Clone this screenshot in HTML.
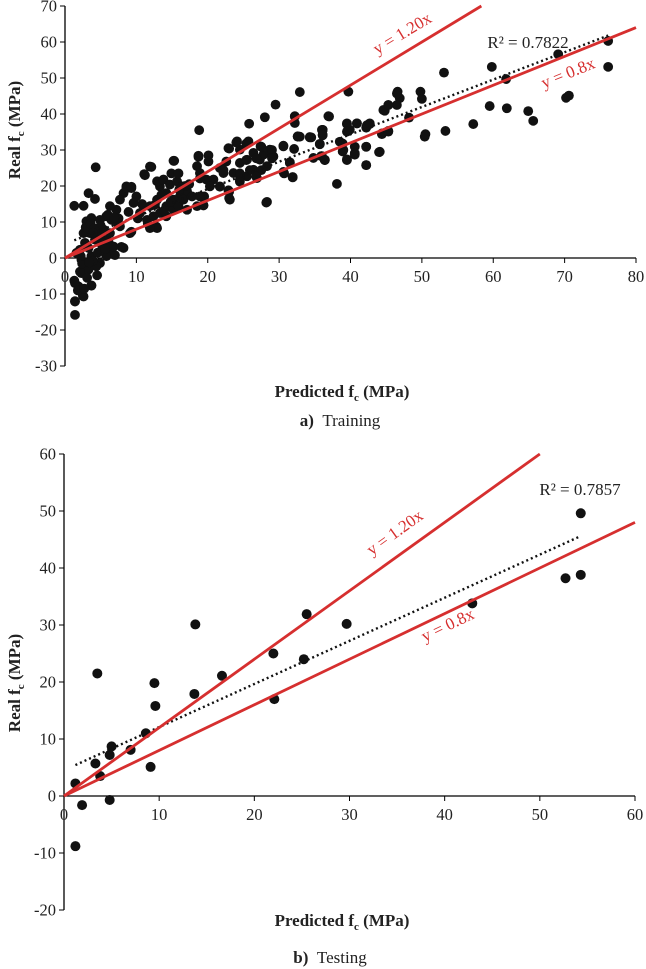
<!DOCTYPE html>
<html><head><meta charset="utf-8"><style>
html,body{margin:0;padding:0;background:#fff;}
svg{display:block;font-family:"Liberation Serif",serif;}
</style></head><body>
<svg id="s" width="646" height="969" viewBox="0 0 646 969" xmlns="http://www.w3.org/2000/svg"></svg>
<script>
const trainX=[1.3,2.6,4.3,3.3,4.2,18.8,32.9,29.5,25.8,28,32.2,32.6,34.3,36,36.9,28.3,15.3,12.1,11.1,24.1,23,18.7,20.1,18.5,18.9,19.5,19.4,22.9,23.1,25.5,26.9,30.6,31.9,30.6,31.5,34.8,36.4,29.2,27.4,28.7,26.4,25.5,24.5,22.2,21.7,20.8,17.1,16.1,15.2,14.2,13.3,12.9,13.8,14.7,15.7,16.4,17.8,12.9,11.9,11.5,12.9,11.9,13.3,14.2,15.2,10.5,9.6,10,8.6,9.3,8.2,7.7,7.2,6.3,5.8,6.5,7.7,9.1,8.2,6.5,5.8,4.9,4.4,3.7,1.9,1.3,1.4,2.5,3,3.7,4.9,4.7,3.5,2.6,2.8,2.1,1.6,3.3,3.7,2.3,2.8,2.3,3.3,4.2,5.4,5.4,6.3,17.1,18.5,15.9,16.6,14.2,12.4,11,18.9,19.8,20.3,21.7,23.6,24.5,26.4,27.3,28.3,24.5,25.7,27.8,29,1.4,1.4,2.6,3.7,1.4,2.1,39.7,53.1,59.8,69.1,76.1,76.1,61.8,59.5,61.9,64.9,65.6,70.2,70.6,57.2,53.3,50.4,50.5,49.8,50,46.6,46.9,46.5,45.3,44.8,48.2,42.7,42.2,40.9,39.5,39.9,45.3,44.4,37,36.1,36.1,34.3,32.9,35.7,36.4,36,38.1,38.9,38.9,39.5,40.6,40.6,42.2,42.2,44,32.2,32.2,32.6,34.5,36.1,36.1,35.7,35.9,36.4,28.2,30.6,32.1,31.5,31.9,30.7,29,29,27.5,27.5,26.8,26.8,25.4,25.4,25.9,24,22.9,22.6,22.2,21.7,23,23,24.5,24.5,39.5,39.5,40.9,42.3,42.7,38.5,39,39.5,40.6,42.2,42.2,44.1,44.6,45.3,46.5,44.4,45.3,11.9,11.2,15.2,14.9,15.9,18.7,20.1,18.9,19.4,12.8,11.9,7.9,7,9.3,8.6,9.3,10.8,13.5,16.8,5,6,7.5,2.4,3.1,3.9,4.6,5.2,6.1,6.8,7.4,2.9,3.6,4.1,5.6,6.9,8.9,10.2,11.6,12.6,13.9,14.8,16,17.4,2.2,3.4,4.5,1.8,2.7,3.9];
const trainY=[14.5,14.5,25.2,18,16.4,35.5,46.1,42.6,37.3,39.1,39.4,33.8,33.6,35.6,39.4,15.6,27,25.3,23.3,32.4,30.4,28.4,28.5,25.5,23.6,17.1,14.6,18.8,16.2,22.7,22.2,23.9,22.5,31,26.4,27.8,27.3,28.2,31,30.1,29.2,27.3,26.4,23.6,25,21.8,18.5,17.1,16.2,18,19.9,21.3,21.8,20.4,21.3,19.9,17.1,16.2,14.4,10.6,8.3,8.8,12.5,14.4,13.4,12.5,15.3,17.1,19.9,19.4,18,16.2,13.4,14.4,11.6,10.6,8.8,6.9,2.8,1.2,0.5,-1.4,-2.3,-7.6,-7.9,-6.3,-12,-10.5,10.2,11.1,10.6,6.9,6.9,6.9,4.2,2.3,1.4,2.8,0.5,-0.5,-2.3,-4.2,-3.2,5.1,5.1,7.9,6.9,13.4,14.4,14.4,16.2,11.6,11.6,14.4,17.1,21.8,19.9,19.9,23.6,21.8,24.5,27.3,25.5,30.1,32.4,28.7,28.2,-12.1,-15.8,-10.7,-7.7,-7,-3.8,46.2,51.5,53.1,56.6,60.3,53.1,49.7,42.2,41.6,40.8,38.1,44.5,45.1,37.2,35.3,33.7,34.4,46.2,44.2,46.2,44.4,42.5,42.5,40.9,39,37.2,36.2,37.4,37.2,35.6,35.3,34.4,39.3,35.6,34.1,33.5,33.7,31.7,27.2,28.3,20.6,31.8,29.6,27.4,30.9,28.7,30.9,25.8,29.4,39.3,37.5,33.7,33.5,35.6,34.2,31.6,28.3,27.2,15.4,31.2,30.3,26.6,22.4,23.5,30,27.7,30.9,24.4,27.7,22.6,31.8,27.2,24.4,32.1,30.5,26.8,24.4,19.8,18.4,16.6,23.5,21.2,37.4,35.1,37.4,36.9,37.4,32.3,30,27.2,29.1,30.9,25.8,29.5,41.1,42.5,45.7,34.6,35.1,25.4,23,27,23.5,23.5,28.1,26.8,22.1,14.7,8.7,8.3,3.1,0.8,7.3,19.4,19.8,15,17.5,20,9,12,11,-1.5,-5.5,-0.8,1.5,3.5,4.5,3.2,9.6,8.5,9.5,8.2,2.5,11.2,12.8,11,9.5,14.8,13.2,15.6,19,20.5,0.5,-1.2,-4.8,-9,-8.5,7];
const testX=[1.2,1.9,1.2,3.3,3.8,3.5,4.8,5,4.8,7,8.6,9.1,9.5,9.6,13.8,13.7,16.6,22,22.1,25.2,25.5,29.7,42.9,52.7,54.3,54.3];
const testY=[2.2,-1.6,-8.8,5.7,3.5,21.5,7.2,8.7,-0.7,8.1,11,5.1,19.8,15.8,30.1,17.9,21.1,25,17,24,31.9,30.2,33.8,38.2,49.6,38.8];
const trainXTicks=[0,10,20,30,40,50,60,70,80];
const trainYTicks=[70,60,50,40,30,20,10,0,-10,-20,-30];
const testXTicks=[0,10,20,30,40,50,60];
const testYTicks=[60,50,40,30,20,10,0,-10,-20];
const bandSlopes=[1.2,0.8];
const bandLabels=["y = 1.20x","y = 0.8x"];
const r2Labels=["R\u00b2 = 0.7822","R\u00b2 = 0.7857"];

const NS="http://www.w3.org/2000/svg";
const svg=document.getElementById('s');
function el(t,a,p){const e=document.createElementNS(NS,t);for(const k in a)e.setAttribute(k,a[k]);(p||svg).appendChild(e);return e;}

function panel(cfg){
  const g=el('g',{});
  
  
  const sx=v=>cfg.x0+(v-cfg.xmin)*(cfg.x1-cfg.x0)/(cfg.xmax-cfg.xmin);
  const sy=v=>cfg.y0-(v-cfg.ymin)*(cfg.y0-cfg.y1)/(cfg.ymax-cfg.ymin);
  const X0=sx(0),Y0=sy(0);
  const ya=el('line',{x1:X0,y1:sy(cfg.ymax),x2:X0,y2:sy(cfg.ymin),stroke:'#000','stroke-width':1.3},g);
  
  const xa=el('line',{x1:X0,y1:Y0,x2:sx(cfg.xmax),y2:Y0,stroke:'#000','stroke-width':1.3},g);
  
  cfg.yt.forEach(v=>{
    el('line',{x1:X0-5,y1:sy(v),x2:X0,y2:sy(v),stroke:'#000','stroke-width':1},g);
    const t=el('text',{x:X0-8,y:sy(v)+5.5,'text-anchor':'end','font-size':16.5,fill:'#222'},g);
    t.textContent=v;
    
  });
  cfg.xt.forEach(v=>{
    el('line',{x1:sx(v),y1:Y0,x2:sx(v),y2:Y0+5,stroke:'#000','stroke-width':1},g);
    const t=el('text',{x:sx(v),y:Y0+24,'text-anchor':'middle','font-size':16.5,fill:'#222'},g);
    t.textContent=v;
    
  });
  cfg.px.forEach((v,i)=>{
    const c=el('circle',{cx:sx(v),cy:sy(cfg.py[i]),r:cfg.r,fill:'#111'},g);
    
  });
  const n=cfg.px.length;let mx=0,my=0;cfg.px.forEach((v,i)=>{mx+=v;my+=cfg.py[i];});mx/=n;my/=n;
  let sxy=0,sxx=0;cfg.px.forEach((v,i)=>{sxy+=(v-mx)*(cfg.py[i]-my);sxx+=(v-mx)*(v-mx);});
  const b=sxy/sxx,a=my-b*mx;
  const xa0=Math.min(...cfg.px),xa1=Math.max(...cfg.px);
  const tr=el('line',{x1:sx(xa0),y1:sy(a+b*xa0),x2:sx(xa1),y2:sy(a+b*xa1),stroke:'#111','stroke-width':2.4,'stroke-dasharray':'2 3'},g);
  
  bandSlopes.forEach((k,i)=>{
    let xe=cfg.xmax;if(k*xe>cfg.ymax)xe=cfg.ymax/k;
    const l=el('line',{x1:X0,y1:Y0,x2:sx(xe),y2:sy(k*xe),stroke:'#d62f2f','stroke-width':2.8},g);
    
    const ang=-Math.atan(k*(cfg.y0-cfg.y1)/(cfg.ymax-cfg.ymin)/((cfg.x1-cfg.x0)/(cfg.xmax-cfg.xmin)))*180/Math.PI;
    const p=cfg.bl[i];
    const t=el('text',{x:p[0],y:p[1],'text-anchor':'middle','font-size':17,fill:'#d62f2f',transform:`rotate(${ang} ${p[0]} ${p[1]})`},g);
    t.textContent=bandLabels[i];
    
  });
  const r=el('text',{x:cfg.r2[0],y:cfg.r2[1],'text-anchor':'middle','font-size':17,fill:'#222'},g);
  r.textContent=cfg.r2t;
  const yt=el('text',{x:0,y:0,'text-anchor':'middle','font-size':17,'font-weight':'bold',fill:'#222',transform:`translate(${cfg.ytl[0]},${cfg.ytl[1]}) rotate(-90)`},g);
  yt.innerHTML='Real f<tspan font-size="11" dy="4">c</tspan><tspan dy="-4"> (MPa)</tspan>';
  
  const xt=el('text',{x:cfg.xtl[0],y:cfg.xtl[1],'text-anchor':'middle','font-size':17,'font-weight':'bold',fill:'#222'},g);
  xt.innerHTML='Predicted f<tspan font-size="11" dy="4">c</tspan><tspan dy="-4"> (MPa)</tspan>';
  
  const cap=el('text',{x:cfg.cap[0],y:cfg.cap[1],'text-anchor':'middle','font-size':17,fill:'#222'},g);
  cap.innerHTML='<tspan font-weight="bold">'+cfg.capA+'</tspan>  '+cfg.capB;
  
}
panel({name:'training-chart',x0:65,x1:636,xmin:0,xmax:80,y0:366,y1:6,ymin:-30,ymax:70,xt:trainXTicks,yt:trainYTicks,px:trainX,py:trainY,r:4.9,
  bl:[[405,38],[570,78]],r2:[528,48],r2t:r2Labels[0],ytl:[20,130],xtl:[342,397],cap:[340,426],capA:'a)',capB:'\u00a0Training'});
panel({name:'testing-chart',x0:64,x1:635,xmin:0,xmax:60,y0:910,y1:454,ymin:-20,ymax:60,xt:testXTicks,yt:testYTicks,px:testX,py:testY,r:5,
  bl:[[398,537],[450,630]],r2:[580,495],r2t:r2Labels[1],ytl:[20,683],xtl:[342,926],cap:[330,963],capA:'b)',capB:'\u00a0Testing'});
</script>
</body></html>
